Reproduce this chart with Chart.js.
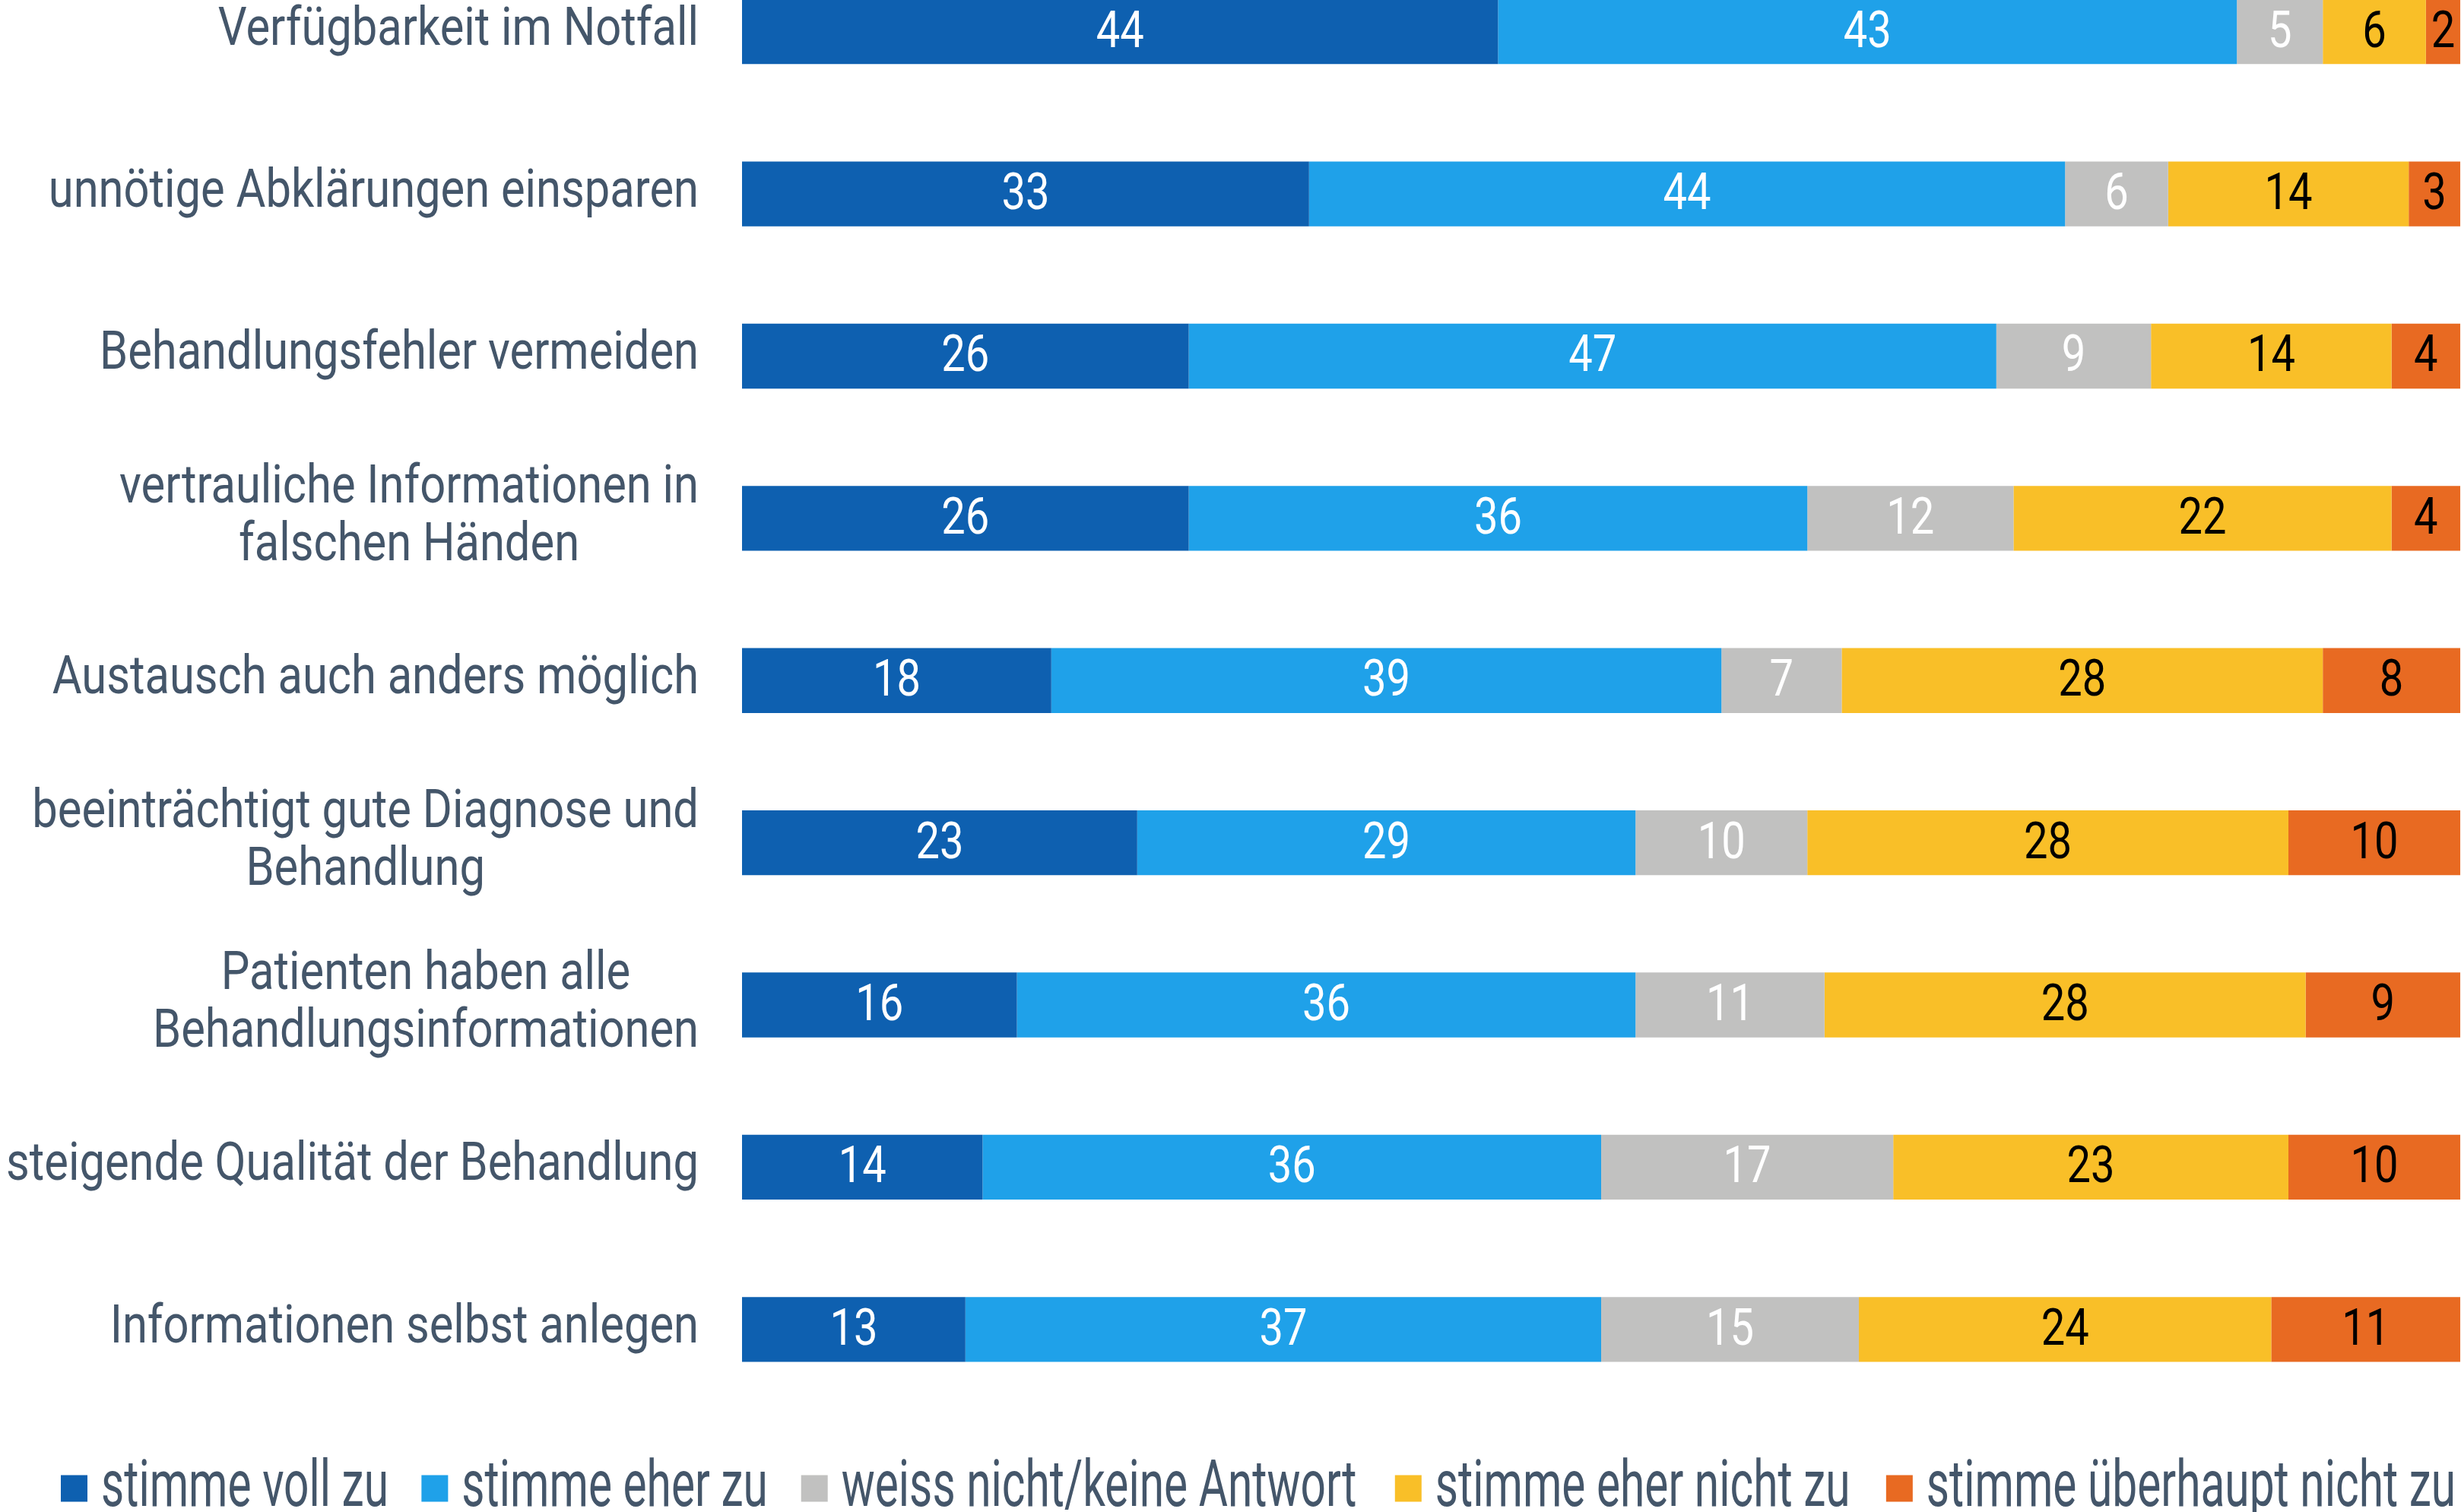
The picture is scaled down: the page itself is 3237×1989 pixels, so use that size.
<!DOCTYPE html>
<html><head><meta charset="utf-8">
<script src="https://cdn.jsdelivr.net/npm/chart.js@4/dist/chart.umd.min.js"></script>
<style>
html,body{margin:0;padding:0;background:#fff;overflow:hidden;width:3237px;height:1989px;}
#wrap{position:absolute;left:0;top:-65px;width:3400px;height:2063px;}
</style></head><body>
<div id="wrap"><canvas id="c" width="3400" height="2063"></canvas></div>
<script>
const categories = [
  ["Verfügbarkeit im Notfall"],
  ["unnötige Abklärungen einsparen"],
  ["Behandlungsfehler vermeiden"],
  ["vertrauliche Informationen in", "falschen Händen"],
  ["Austausch auch anders möglich"],
  ["beeinträchtigt gute Diagnose und", "Behandlung"],
  ["Patienten haben alle", "Behandlungsinformationen"],
  ["steigende Qualität der Behandlung"],
  ["Informationen selbst anlegen"]
];
const seriesNames = ["stimme voll zu", "stimme eher zu", "weiss nicht/keine Antwort", "stimme eher nicht zu", "stimme überhaupt nicht zu"];
const stimmeVoll = [44, 33, 26, 26, 18, 23, 16, 14, 13];
const stimmeEher = [43, 44, 47, 36, 39, 29, 36, 36, 37];
const weissNicht = [5, 6, 9, 12, 7, 10, 11, 17, 15];
const eherNicht = [6, 14, 14, 22, 28, 28, 28, 23, 24];
const ueberhauptNicht = [2, 3, 4, 4, 8, 10, 9, 10, 11];

const colors = ["#0e60b0", "#1fa1e9", "#c1c1c0", "#f9bf28", "#e86a22"];
const labelColors = ["#ffffff", "#ffffff", "#ffffff", "#000000", "#000000"];
const FONT = 'Roboto, "Liberation Sans", sans-serif';
const TEXT = "#44566a";

const values = [stimmeVoll, stimmeEher, weissNicht, eherNicht, ueberhauptNicht];

function widthOf(ctx, font, s) {
  ctx.save(); ctx.font = font; const w = ctx.measureText(s).width; ctx.restore(); return w;
}
function drawSqueezed(ctx, text, x, y, f, align) {
  ctx.save();
  ctx.translate(x, y);
  ctx.scale(f, 1);
  ctx.textAlign = align;
  ctx.fillText(text, 0, 0);
  ctx.restore();
}

const valueLabels = {
  id: 'valueLabels',
  afterDatasetsDraw(chart) {
    const ctx = chart.ctx;
    const font = '66px ' + FONT;
    const f = 63 / widthOf(ctx, font, '44');
    ctx.save();
    ctx.font = font;
    ctx.textBaseline = 'alphabetic';
    chart.data.datasets.forEach((ds, di) => {
      const meta = chart.getDatasetMeta(di);
      meta.data.forEach((el, i) => {
        ctx.fillStyle = labelColors[di];
        drawSqueezed(ctx, String(ds.data[i]), (el.x + el.base) / 2, el.y + 20, f, 'center');
      });
    });
    ctx.restore();
  }
};

const catLabels = {
  id: 'catLabels',
  afterDraw(chart) {
    const ctx = chart.ctx;
    const sc = chart.scales.y;
    const font = '70px ' + FONT;
    const f = 911 / widthOf(ctx, font, 'steigende Qualität der Behandlung');
    const right = 919;
    const lh = 76;
    ctx.save();
    ctx.font = font;
    ctx.fillStyle = TEXT;
    ctx.textBaseline = 'alphabetic';
    categories.forEach((lines, i) => {
      const y = sc.getPixelForTick(i);
      const w = Math.max(...lines.map(l => ctx.measureText(l).width)) * f;
      const cx = right - w / 2;
      const y0 = y + 17 - (lines.length - 1) * lh / 2;
      lines.forEach((l, k) => drawSqueezed(ctx, l, cx, y0 + k * lh, f, 'center'));
    });
    // legend texts, squeezed to match the condensed original face
    const lg = chart.legend;
    const lfont = '85px ' + FONT;
    const lf = 378 / widthOf(ctx, lfont, 'stimme voll zu');
    ctx.font = lfont;
    lg.legendItems.forEach((item, i) => {
      const hb = lg.legendHitBoxes[i];
      drawSqueezed(ctx, item.text, hb.left + 53, hb.top + hb.height / 2 + 22.5, lf, 'left');
    });
    ctx.restore();
  }
};

new Chart(document.getElementById('c'), {
  type: 'bar',
  data: {
    labels: categories.map(c => c.join(' ')),
    datasets: values.map((v, i) => ({
      label: seriesNames[i],
      data: v,
      backgroundColor: colors[i],
      borderWidth: 0,
      barPercentage: 0.4,
      categoryPercentage: 1.0
    }))
  },
  options: {
    indexAxis: 'y',
    responsive: false,
    animation: false,
    devicePixelRatio: 1,
    layout: { padding: { left: 57.5, right: 0, top: 0, bottom: 0 } },
    plugins: {
      tooltip: { enabled: false },
      legend: {
        position: 'bottom',
        align: 'start',
        labels: {
          boxWidth: 35,
          boxHeight: 35,
          padding: 22.5,
          color: 'rgba(0,0,0,0)',
          font: { family: FONT, size: 60 }
        }
      }
    },
    scales: {
      x: {
        stacked: true, min: 0, max: 100, position: 'bottom',
        ticks: { display: false }, grid: { display: false }, border: { display: false },
        afterFit(s) { s.height = 50; }
      },
      y: {
        stacked: true, position: 'left',
        ticks: { display: false }, grid: { display: false }, border: { display: false },
        afterFit(s) { s.width = 918.5; }
      },
      y2: {
        type: 'category', position: 'right', display: true,
        ticks: { display: false }, grid: { display: false }, border: { display: false },
        afterFit(s) { s.width = 164; }
      }
    }
  },
  plugins: [valueLabels, catLabels]
});
</script>
</body></html>
